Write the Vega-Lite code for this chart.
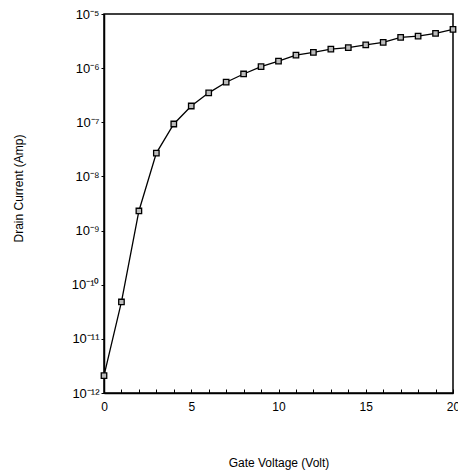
{
  "$schema": "https://vega.github.io/schema/vega-lite/v6.json",
  "autosize": "none",
  "width": 349,
  "height": 379,
  "padding": {"left": 104, "top": 14, "right": 5, "bottom": 80},
  "background": "white",
  "config": {
    "font": "Liberation Sans",
    "view": {"stroke": "black", "strokeWidth": 1.5},
    "axis": {"grid": false, "domainColor": "black", "tickColor": "black", "labelColor": "black", "titleColor": "black", "domainWidth": 1.5}
  },
  "data": {"values": [
    {"v": 0, "i": 2.1e-12},
    {"v": 1, "i": 4.8e-11},
    {"v": 2, "i": 2.3e-9},
    {"v": 3, "i": 2.7e-8},
    {"v": 4, "i": 9.3e-8},
    {"v": 5, "i": 2.0e-7},
    {"v": 6, "i": 3.5e-7},
    {"v": 7, "i": 5.5e-7},
    {"v": 8, "i": 7.8e-7},
    {"v": 9, "i": 1.07e-6},
    {"v": 10, "i": 1.35e-6},
    {"v": 11, "i": 1.74e-6},
    {"v": 12, "i": 1.95e-6},
    {"v": 13, "i": 2.24e-6},
    {"v": 14, "i": 2.4e-6},
    {"v": 15, "i": 2.7e-6},
    {"v": 16, "i": 3.0e-6},
    {"v": 17, "i": 3.7e-6},
    {"v": 18, "i": 3.9e-6},
    {"v": 19, "i": 4.4e-6},
    {"v": 20, "i": 5.2e-6}
  ]},
  "encoding": {
    "x": {
      "field": "v", "type": "quantitative",
      "scale": {"domain": [0, 20], "nice": false, "zero": false},
      "axis": {
        "title": "Gate Voltage (Volt)",
        "titleFontSize": 12, "titleFontWeight": "normal", "titleY": 64,
        "values": [0,1,2,3,4,5,6,7,8,9,10,11,12,13,14,15,16,17,18,19,20],
        "labelExpr": "datum.value % 5 == 0 ? datum.label : ''",
        "labelFontSize": 12, "labelPadding": 12, "tickSize": -4, "labelFlush": false
      }
    },
    "y": {
      "field": "i", "type": "quantitative",
      "scale": {"type": "log", "domain": [1e-12, 1e-5], "nice": false},
      "axis": {
        "title": "Drain Current (Amp)",
        "titleFontSize": 12, "titleFontWeight": "normal",
        "titleX": -79, "titleY": 174,
        "values": [1e-12, 1e-11, 1e-10, 1e-9, 1e-8, 1e-7, 1e-6, 1e-5],
        "labelExpr": "'10⁻' + (round(-log(datum.value)/LN10) == 5 ? '⁵' : round(-log(datum.value)/LN10) == 6 ? '⁶' : round(-log(datum.value)/LN10) == 7 ? '⁷' : round(-log(datum.value)/LN10) == 8 ? '⁸' : round(-log(datum.value)/LN10) == 9 ? '⁹' : round(-log(datum.value)/LN10) == 10 ? '¹⁰' : round(-log(datum.value)/LN10) == 11 ? '¹¹' : '¹²')",
        "labelFontSize": 13, "tickSize": 3, "labelPadding": 2, "labelFlush": false
      }
    }
  },
  "layer": [
    {"mark": {"type": "line", "color": "black", "strokeWidth": 1.3}},
    {"mark": {"type": "point", "shape": "square", "size": 30, "filled": true, "fill": "#bbbbbb", "stroke": "black", "strokeWidth": 1.3, "opacity": 1}}
  ]
}
